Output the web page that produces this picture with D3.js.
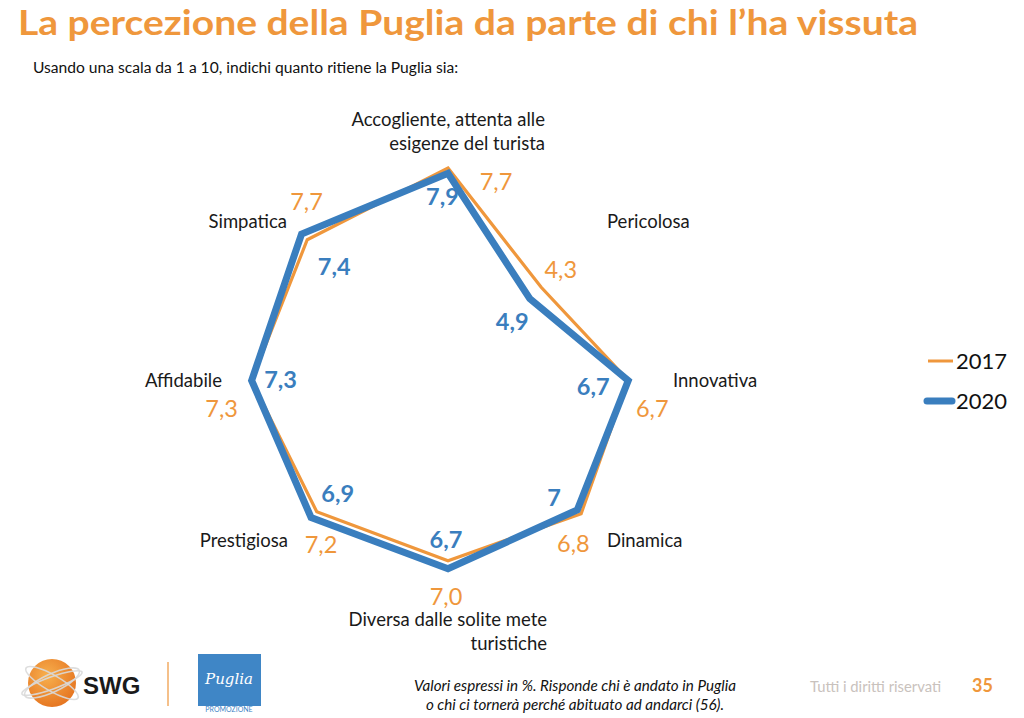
<!DOCTYPE html>
<html>
<head>
<meta charset="utf-8">
<script src="https://cdn.jsdelivr.net/npm/d3@7"></script>
<style>
  html, body { margin: 0; padding: 0; background: #ffffff; }
  svg { display: block; }
</style>
</head>
<body>
<svg id="chart" width="1024" height="718"></svg>
<script>
// ---------------- DATA ----------------
const categories = [
  ["Accogliente, attenta alle", "esigenze del turista"],
  ["Pericolosa"],
  ["Innovativa"],
  ["Dinamica"],
  ["Diversa dalle solite mete", "turistiche"],
  ["Prestigiosa"],
  ["Affidabile"],
  ["Simpatica"]
];
const seriesNames = ["2017", "2020"];
// polygon values as drawn in the reference (orange = 2017, blue = 2020)
const values2017 = [7.9, 4.9, 6.7, 7.0, 6.7, 6.9, 7.3, 7.4];
const values2020 = [7.7, 4.3, 6.7, 6.8, 7.0, 7.2, 7.3, 7.7];
// data labels as printed in the reference
const labels2017 = ["7,7", "4,3", "6,7", "6,8", "7,0", "7,2", "7,3", "7,7"];
const labels2020 = ["7,9", "4,9", "6,7", "7", "6,7", "6,9", "7,3", "7,4"];
const labelValues2017 = [7.7, 4.3, 6.7, 6.8, 7.0, 7.2, 7.3, 7.7];
const labelValues2020 = [7.9, 4.9, 6.7, 7.0, 6.7, 6.9, 7.3, 7.4];
const scaleMax = 10;

// ---------------- STYLE / LAYOUT ----------------
const ORANGE = "#EF973C";
const BLUE = "#3A7EBE";
const FONT = "Lato, 'Open Sans', sans-serif";
const cx = 448, cy = 380.5, R = 269;

const svg = d3.select("#chart");

// title & subtitle
svg.append("text").attr("x", 18).attr("y", 35)
  .attr("font-family", FONT).attr("font-weight", 700).attr("font-size", 35)
  .attr("textLength", 900).attr("lengthAdjust", "spacingAndGlyphs")
  .attr("fill", ORANGE).text("La percezione della Puglia da parte di chi l’ha vissuta");
svg.append("text").attr("x", 33).attr("y", 73)
  .attr("font-family", FONT).attr("font-size", 15.6).attr("fill", "#111")
  .text("Usando una scala da 1 a 10, indichi quanto ritiene la Puglia sia:");

// scales
const angle = d3.scaleLinear().domain([0, categories.length]).range([0, 2 * Math.PI]);
const r = d3.scaleLinear().domain([0, scaleMax]).range([0, R]);
const pt = (i, v) => [cx + r(v) * Math.sin(angle(i)), cy - r(v) * Math.cos(angle(i))];

const line = d3.lineRadial()
  .angle((d, i) => angle(i))
  .radius(d => r(d))
  .curve(d3.curveLinearClosed);

const g = svg.append("g").attr("transform", `translate(${cx},${cy})`);
g.append("path").datum(values2017).attr("d", line)
  .attr("fill", "none").attr("stroke", ORANGE).attr("stroke-width", 3.2)
  .attr("stroke-linejoin", "miter");
g.append("path").datum(values2020).attr("d", line)
  .attr("fill", "none").attr("stroke", BLUE).attr("stroke-width", 7)
  .attr("stroke-linejoin", "miter");

// category labels (offsets relative to chart centre)
const catLayout = [
  { x: 97, y: -254.5, a: "end" },
  { x: 159, y: -152.5, a: "start" },
  { x: 225, y: 6.5, a: "start" },
  { x: 159, y: 166.5, a: "start" },
  { x: 99, y: 245.5, a: "end" },
  { x: -160, y: 166.5, a: "end" },
  { x: -226, y: 6.5, a: "end" },
  { x: -161, y: -152.5, a: "end" }
];
categories.forEach((lines, i) => {
  const t = svg.append("text")
    .attr("font-family", FONT).attr("font-size", 18.5).attr("fill", "#1a1a1a")
    .attr("text-anchor", catLayout[i].a);
  lines.forEach((s, j) => {
    t.append("tspan").attr("x", cx + catLayout[i].x).attr("y", cy + catLayout[i].y + j * 23.5).text(s);
  });
});

// value labels (offsets relative to vertex)
const off2017 = [[48, 17], [31, -21], [24, 36], [-4, 42], [-2, 36], [10, 36], [-30, 36], [5, -24]];
const off2020 = [[-5.5, 37], [-29, 43], [-35, 14.5], [-27, -8], [-2, -13], [21, -10], [29, 7.5], [27, 35]];
labels2017.forEach((s, i) => {
  const p = pt(i, labelValues2017[i]);
  svg.append("text").attr("x", p[0] + off2017[i][0]).attr("y", p[1] + off2017[i][1])
    .attr("text-anchor", "middle").attr("font-family", FONT).attr("font-size", 23.5)
    .attr("fill", ORANGE).text(s);
});
labels2020.forEach((s, i) => {
  const p = pt(i, labelValues2020[i]);
  svg.append("text").attr("x", p[0] + off2020[i][0]).attr("y", p[1] + off2020[i][1])
    .attr("text-anchor", "middle").attr("font-family", FONT).attr("font-size", 23.5)
    .attr("font-weight", 700).attr("fill", BLUE).text(s);
});

// legend
const leg = svg.append("g");
leg.append("line").attr("x1", 928).attr("x2", 953).attr("y1", 361).attr("y2", 361)
  .attr("stroke", ORANGE).attr("stroke-width", 3);
leg.append("text").attr("x", 956).attr("y", 369).attr("font-family", FONT).attr("font-size", 22)
  .attr("fill", "#111").text(seriesNames[0]);
leg.append("line").attr("x1", 927).attr("x2", 952).attr("y1", 401).attr("y2", 401)
  .attr("stroke", BLUE).attr("stroke-width", 7).attr("stroke-linecap", "round");
leg.append("text").attr("x", 956).attr("y", 409).attr("font-family", FONT).attr("font-size", 22)
  .attr("fill", "#111").text(seriesNames[1]);

// footer
const defs = svg.append("defs");
const rg = defs.append("radialGradient").attr("id", "globe").attr("cx", "40%").attr("cy", "35%").attr("r", "70%");
rg.append("stop").attr("offset", "0%").attr("stop-color", "#F7B04E");
rg.append("stop").attr("offset", "100%").attr("stop-color", "#E5731F");
svg.append("circle").attr("cx", 52).attr("cy", 683).attr("r", 24).attr("fill", "url(#globe)");
[[-25, 30, 9], [-20, 32, 6], [30, 30, 8]].forEach(([rot, rx, ry]) => {
  svg.append("ellipse").attr("cx", 52).attr("cy", 683).attr("rx", rx).attr("ry", ry)
    .attr("transform", `rotate(${rot},52,683)`).attr("fill", "none")
    .attr("stroke", "#d9d9d9").attr("stroke-width", 1.6).attr("opacity", 0.9);
});
svg.append("text").attr("x", 83).attr("y", 694).attr("font-family", "'Liberation Sans', Arial, sans-serif")
  .attr("font-weight", 700).attr("font-size", 24).attr("fill", "#1a1a1a").text("SWG");
svg.append("line").attr("x1", 168).attr("x2", 168).attr("y1", 662).attr("y2", 706)
  .attr("stroke", ORANGE).attr("stroke-width", 1.5).attr("opacity", 0.8);
svg.append("rect").attr("x", 198).attr("y", 654).attr("width", 63).attr("height", 52).attr("fill", "#3F86C6");
svg.append("text").attr("x", 229).attr("y", 684).attr("text-anchor", "middle")
  .attr("font-family", "'DejaVu Serif', serif").attr("font-style", "italic").attr("font-size", 15)
  .attr("fill", "#fff").text("Puglia");
svg.append("text").attr("x", 229).attr("y", 712).attr("text-anchor", "middle")
  .attr("font-family", FONT).attr("font-size", 7).attr("fill", "#3F86C6").text("PROMOZIONE");

svg.append("text").attr("x", 575).attr("y", 691).attr("text-anchor", "middle")
  .attr("font-family", FONT).attr("font-style", "italic").attr("font-size", 15.2).attr("fill", "#111")
  .text("Valori espressi in %. Risponde chi è andato in Puglia");
svg.append("text").attr("x", 575).attr("y", 710).attr("text-anchor", "middle")
  .attr("font-family", FONT).attr("font-style", "italic").attr("font-size", 15.2).attr("fill", "#111")
  .text("o chi ci tornerà perché  abituato ad andarci (56).");
svg.append("text").attr("x", 810).attr("y", 692)
  .attr("font-family", FONT).attr("font-size", 14.8).attr("fill", "#c9c2bd").text("Tutti i diritti riservati");
svg.append("text").attr("x", 972).attr("y", 692)
  .attr("font-family", FONT).attr("font-weight", 700).attr("font-size", 18).attr("fill", ORANGE).text("35");
</script>
</body>
</html>
